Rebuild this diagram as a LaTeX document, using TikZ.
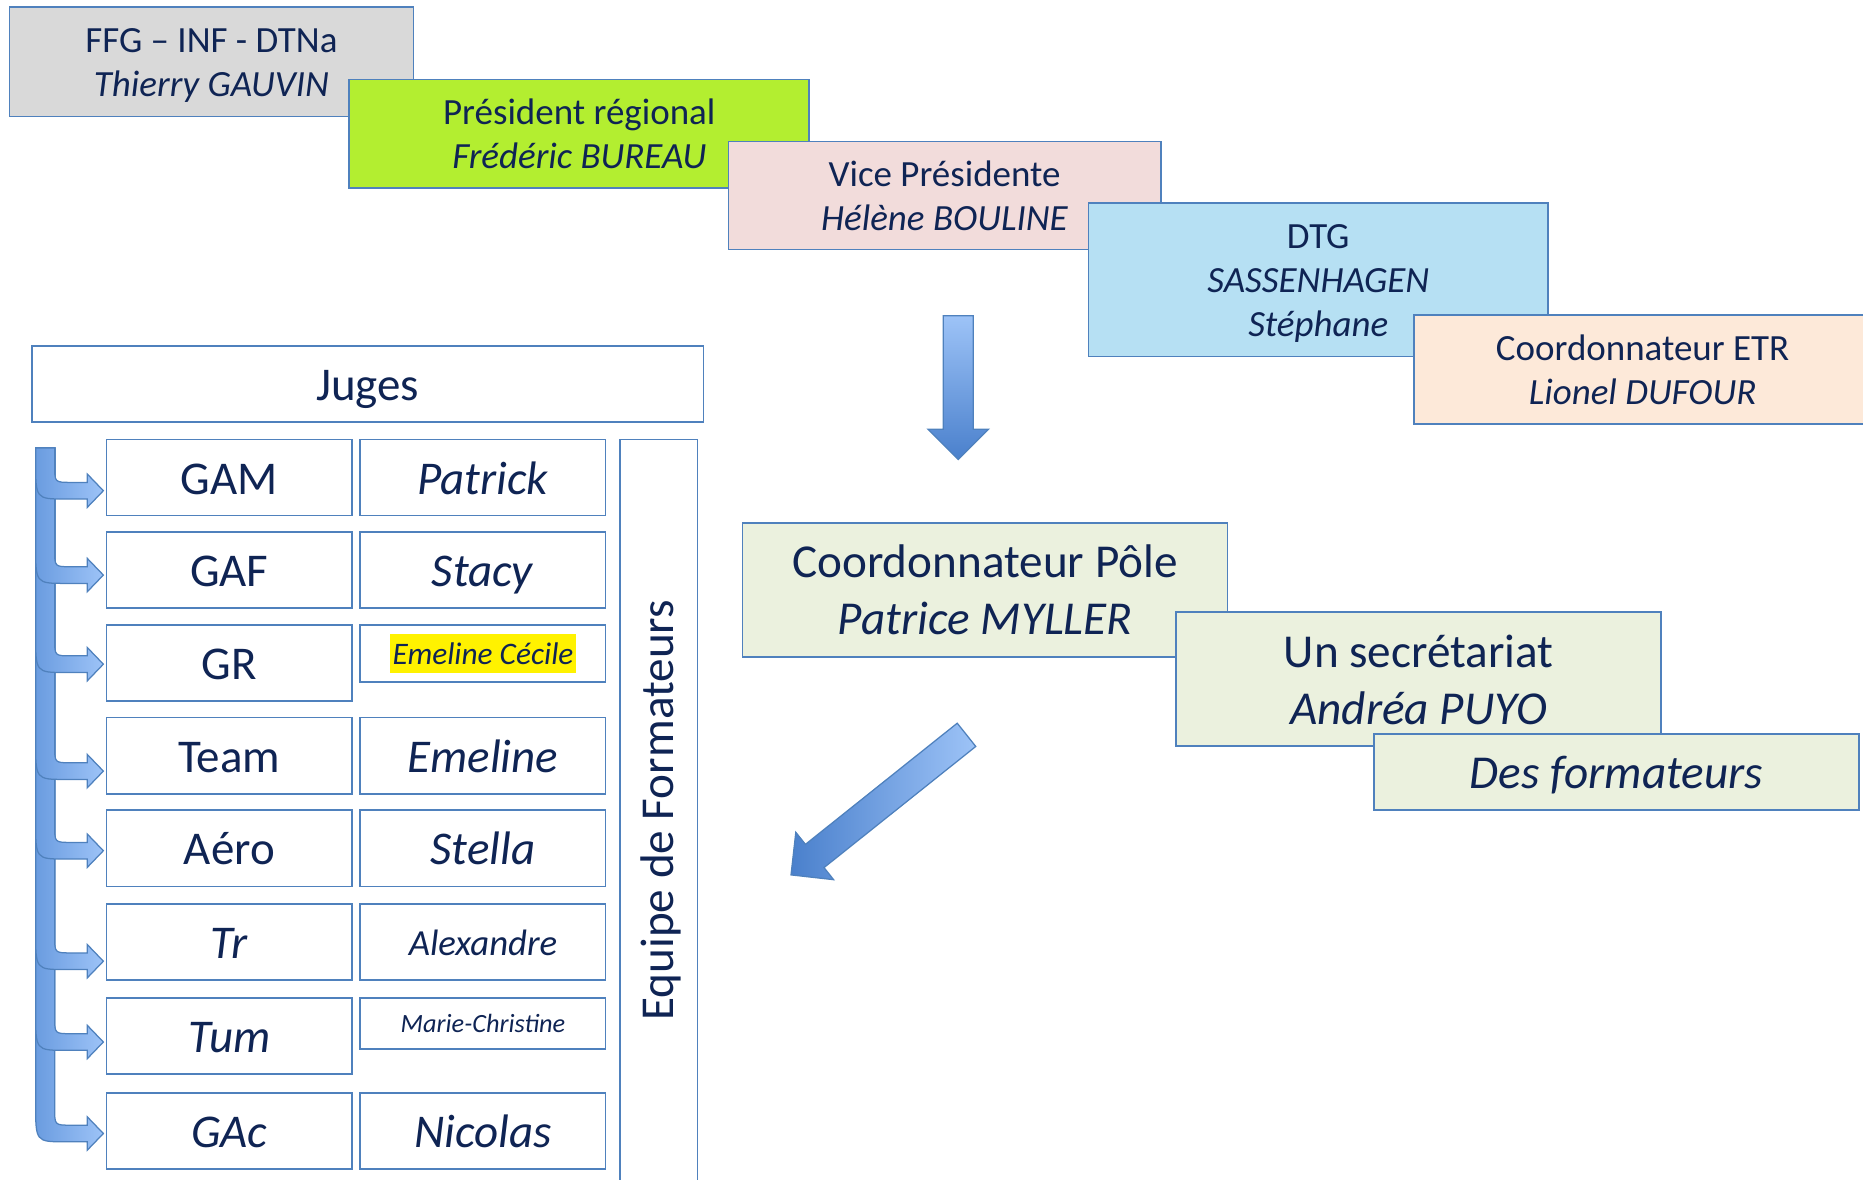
\documentclass[tikz,border=0pt]{standalone}
\usepackage{fontspec}
\setmainfont{Carlito}
\usepackage{tikz}
\usetikzlibrary{shapes.arrows}

\definecolor{boxblue}{HTML}{4F81BD}
\definecolor{navy}{HTML}{0F2454}
\definecolor{graybox}{HTML}{D9D9D9}
\definecolor{limebox}{HTML}{B3EE30}
\definecolor{pinkbox}{HTML}{F2DCDB}
\definecolor{bluebox}{HTML}{B6E0F3}
\definecolor{peachbox}{HTML}{FDE9D9}
\definecolor{olivebox}{HTML}{EBF1DE}
\definecolor{arrowlight}{HTML}{9DC3F7}
\definecolor{arrowmid}{HTML}{6A9CE0}
\definecolor{arrowdark}{HTML}{4A80CC}

% strut so that each line sits in the middle of its box
\newcommand{\ls}{\rule[-0.2em]{0pt}{1.1em}}

\tikzset{
	box/.style={draw=boxblue,line width=0.8pt,inner sep=0pt,align=center,text=navy,font=\fontsize{17.7}{21}\selectfont},
	bigbox/.style={box,fill=olivebox,minimum width=8.16cm,font=\fontsize{22.6}{27.3}\selectfont},
	cell/.style={box,fill=white,minimum width=4.13cm,minimum height=1.28cm,font=\fontsize{22.5}{27}\selectfont},
	bigarrow/.style={single arrow,draw=boxblue,line width=0.6pt,minimum width=1cm,single arrow head extend=0.26cm,inner xsep=0pt,inner ysep=0.24cm},
	bentarrow/.style={draw=boxblue,line width=0.6pt,left color=arrowmid,right color=arrowlight}
}

\begin{document}
\begin{tikzpicture}
	\clip (0,0) rectangle (31.36,-19.86);

	% top cascade
	\node (ffg) at (3.56,-1.04) [box,fill=graybox,minimum width=6.8cm,minimum height=1.84cm] {\ls FFG – INF - DTNa\\\ls\textit{Thierry GAUVIN}};
	\node (pres) at (9.75,-2.25) [box,fill=limebox,minimum width=7.74cm,minimum height=1.82cm] {\ls Président régional\\\ls\textit{Frédéric BUREAU}};
	\node (vice) at (15.9,-3.29) [box,fill=pinkbox,minimum width=7.28cm,minimum height=1.82cm] {\ls Vice Présidente\\\ls\textit{Hélène BOULINE}};
	\node (dtg) at (22.19,-4.71) [box,fill=bluebox,minimum width=7.74cm,minimum height=2.58cm] {\ls DTG\\\ls\textit{SASSENHAGEN}\\\ls\textit{Stéphane}};
	\node (etr) at (27.65,-6.22) [box,fill=peachbox,minimum width=7.7cm,minimum height=1.84cm] {\ls Coordonnateur ETR\\\ls\textit{Lionel DUFOUR}};

	\node (down) at (16.13,-6.4) [bigarrow,top color=arrowlight,bottom color=arrowdark,minimum height=2.42cm,rotate=-90] {};

	% pole
	\node (pole) at (16.58,-9.93) [bigbox,minimum height=2.26cm] {\ls Coordonnateur Pôle\\\ls\textit{Patrice MYLLER}};
	\node (secr) at (23.88,-11.43) [bigbox,minimum height=2.26cm] {\ls Un secrétariat\\\ls\textit{Andréa PUYO}};
	\node (form) at (27.21,-13.0) [bigbox,minimum height=1.28cm] {\ls\textit{Des formateurs}};

	\node (diag) at (14.89,-13.47) [bigarrow,left color=arrowdark,right color=arrowlight,minimum height=3.78cm,rotate=218.6] {};

	% juges
	\node (juges) at (6.19,-6.46) [cell,minimum width=11.3cm] {\ls Juges};

	\foreach \y in {-19.08,-17.54,-16.18,-14.32,-12.98,-11.18,-9.68,-8.26}
		\draw[bentarrow] (0.60,-7.54) -- (0.60,\y+0.5) .. controls (0.60,\y-0.14) .. (1.1,\y-0.14) -- (1.47,\y-0.14) -- (1.47,\y-0.28) -- (1.74,\y) -- (1.47,\y+0.28) -- (1.47,\y+0.14) -- (1.2,\y+0.14) .. controls (0.92,\y+0.14) .. (0.92,\y+0.42) -- (0.92,-7.54) -- cycle;

	\node (gam) at (3.86,-8.04) [cell] {\ls GAM};
	\node (gaf) at (3.86,-9.59) [cell] {\ls GAF};
	\node (gr) at (3.86,-11.16) [cell] {\ls GR};
	\node (team) at (3.86,-12.72) [cell] {\ls Team};
	\node (aero) at (3.86,-14.28) [cell] {\ls Aéro};
	\node (tr) at (3.86,-15.86) [cell] {\ls\textit{Tr}};
	\node (tum) at (3.86,-17.44) [cell] {\ls\textit{Tum}};
	\node (gac) at (3.86,-19.04) [cell] {\ls\textit{GAc}};

	\node (gam2) at (8.13,-8.04) [cell] {\ls\textit{Patrick}};
	\node (gaf2) at (8.13,-9.59) [cell] {\ls\textit{Stacy}};
	\node (gr2) at (8.13,-11.0) [cell,minimum height=0.96cm] {};
	\node at (gr2) [fill=yellow,text=navy,inner sep=0pt,minimum width=3.12cm,minimum height=0.66cm,font=\fontsize{15}{18}\selectfont\itshape] {\ls Emeline Cécile};
	\node (team2) at (8.13,-12.72) [cell] {\ls\textit{Emeline}};
	\node (aero2) at (8.13,-14.28) [cell] {\ls\textit{Stella}};
	\node (tr2) at (8.13,-15.86) [cell,font=\fontsize{17.6}{21}\selectfont] {\ls\textit{Alexandre}};
	\node (tum2) at (8.13,-17.23) [cell,minimum height=0.86cm,font=\fontsize{12.6}{15}\selectfont] {\ls\textit{Marie-Christine}};
	\node (gac2) at (8.13,-19.04) [cell] {\ls\textit{Nicolas}};

	% equipe
	\node (equipe) at (11.09,-13.8) [box,minimum width=1.3cm,minimum height=12.8cm] {};
	\node at (11.12,-13.64) [rotate=90,text=navy,font=\fontsize{22.6}{27}\selectfont] {Equipe de Formateurs};
\end{tikzpicture}
\end{document}
